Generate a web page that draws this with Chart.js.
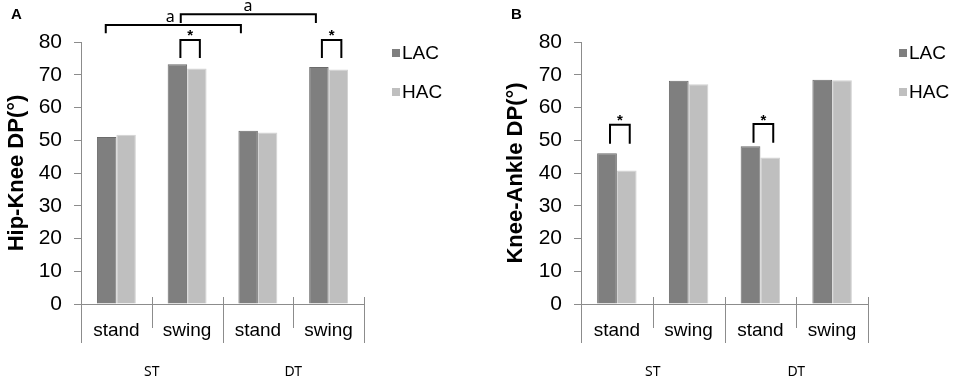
<!DOCTYPE html>
<html>
<head>
<meta charset="utf-8">
<script src="https://cdn.jsdelivr.net/npm/chart.js@4.4.1/dist/chart.umd.min.js"></script>
<style>
    body { margin: 0; background: #fff; }
    #wrap { position: relative; width: 957px; height: 384px; overflow: hidden; }
    .panel { position: absolute; top: 0; width: 478px; height: 384px; }
    .letter { position: absolute; font: bold 15px "Liberation Sans", Arial, sans-serif; color: #000; }
</style>
</head>
<body>
<div id="wrap">
    <div class="panel" style="left:0"><canvas id="chartA" width="478" height="384"></canvas></div>
    <div class="panel" style="left:479px"><canvas id="chartB" width="478" height="384"></canvas></div>
    <div class="letter" style="left:11px; top:5px">A</div>
    <div class="letter" style="left:511px; top:5px">B</div>
</div>
<script>
const categories = ['stand', 'swing', 'stand', 'swing'];
const groupLabels = ['ST', 'DT'];
const seriesNames = ['LAC', 'HAC'];
const yTicks = [0, 10, 20, 30, 40, 50, 60, 70, 80];

const hipKneeLAC = [51.0, 73.2, 52.9, 72.4];
const hipKneeHAC = [51.7, 71.9, 52.4, 71.6];
const kneeAnkleLAC = [46.0, 68.2, 48.2, 68.5];
const kneeAnkleHAC = [40.8, 67.1, 44.7, 68.3];

// * marks: category index, bracket top, leg bottom, star position (degrees)
const hipKneeStars = [[1, 80.6, 75.1, 82.7], [3, 80.6, 75.1, 82.7]];
const kneeAnkleStars = [[0, 54.7, 48.9, 56.8], [2, 55.0, 49.2, 56.8]];
// 'a' marks: from, to (category position), top, leg bottom, label x, label y
const hipKneeA = [[-0.15, 1.76, 85.2, 82.7, 0.76, 87.6], [0.91, 2.82, 88.5, 85.8, 1.86, 90.9]];
const kneeAnkleA = [];

const colors = { LAC: '#7f7f7f', HAC: '#bfbfbf' };
const borders = { LAC: '#6b6b6b', HAC: '#d2d2d2' };
const axisGray = '#8c8c8c';
const fontFamily = '"Liberation Sans", Arial, sans-serif';

Chart.defaults.font.family = fontFamily;
Chart.defaults.color = '#000';

const marks = {
    id: 'marks',
    afterDraw(chart, args, opts) {
        const ctx = chart.ctx;
        const x = chart.scales.x;
        const y = chart.scales.y;
        const area = chart.chartArea;
        ctx.save();

        // category separators below the axis
        ctx.strokeStyle = axisGray;
        ctx.lineWidth = 1;
        for (let i = 0; i <= categories.length; i++) {
            const px = Math.round(x.getPixelForValue(i - 0.5)) + 0.5;
            ctx.beginPath();
            if (i % 2 === 0) {
                ctx.moveTo(px, i === 0 ? area.bottom : area.bottom - 7);
                ctx.lineTo(px, area.bottom + 39);
            } else {
                ctx.moveTo(px, area.bottom - 7);
                ctx.lineTo(px, area.bottom + 24);
            }
            ctx.stroke();
        }

        // group labels
        ctx.fillStyle = '#000';
        ctx.font = '14px "Noto Sans", sans-serif';
        ctx.textAlign = 'center';
        ctx.textBaseline = 'middle';
        groupLabels.forEach((g, i) => {
            ctx.fillText(g, x.getPixelForValue(i * 2 + 0.5), area.bottom + 68);
        });

        // legend
        chart.data.datasets.forEach((ds, i) => {
            const lx = area.right + opts.legendGap;
            const ly = area.top + 11 + i * 39;
            ctx.fillStyle = ds.backgroundColor;
            ctx.fillRect(lx, ly - 4, 8, 8);
            ctx.fillStyle = '#000';
            ctx.font = '19px ' + fontFamily;
            ctx.textAlign = 'left';
            ctx.fillText(ds.label, lx + 10, ly + 1);
        });

        // significance brackets
        ctx.strokeStyle = '#000';
        ctx.lineWidth = 2;
        const m0 = chart.getDatasetMeta(0).data;
        const m1 = chart.getDatasetMeta(1).data;
        opts.stars.forEach(([c, top, leg, sy]) => {
            const x0 = m0[c].x + 3, x1 = m1[c].x + 3;
            ctx.beginPath();
            ctx.moveTo(x0, y.getPixelForValue(leg));
            ctx.lineTo(x0, y.getPixelForValue(top));
            ctx.lineTo(x1, y.getPixelForValue(top));
            ctx.lineTo(x1, y.getPixelForValue(leg));
            ctx.stroke();
            ctx.fillStyle = '#000';
            ctx.font = 'bold 15px ' + fontFamily;
            ctx.textAlign = 'center';
            ctx.fillText('*', (x0 + x1) / 2, y.getPixelForValue(sy) + 3);
        });
        opts.groups.forEach(([from, to, top, leg, lx, ly]) => {
            const x0 = x.getPixelForValue(from), x1 = x.getPixelForValue(to);
            ctx.beginPath();
            ctx.moveTo(x0, y.getPixelForValue(leg));
            ctx.lineTo(x0, y.getPixelForValue(top));
            ctx.lineTo(x1, y.getPixelForValue(top));
            ctx.lineTo(x1, y.getPixelForValue(leg));
            ctx.stroke();
            ctx.fillStyle = '#000';
            ctx.font = '16px "Noto Sans", sans-serif';
            ctx.textAlign = 'center';
            ctx.fillText('a', x.getPixelForValue(lx), y.getPixelForValue(ly));
        });
        ctx.restore();
    }
};

function makeChart(id, title, lac, hac, stars, groups, layout) {
    const ctx = document.getElementById(id).getContext('2d');
    return new Chart(ctx, {
        type: 'bar',
        data: {
            labels: categories,
            datasets: [
                { label: seriesNames[0], data: lac, backgroundColor: colors.LAC, borderColor: borders.LAC, borderWidth: 1 },
                { label: seriesNames[1], data: hac, backgroundColor: colors.HAC, borderColor: borders.HAC, borderWidth: 1 }
            ]
        },
        options: {
            responsive: false,
            animation: false,
            devicePixelRatio: 1,
            layout: { padding: { top: 42, bottom: 0, left: layout.left, right: layout.right } },
            datasets: { bar: { barPercentage: 1, categoryPercentage: 0.55 } },
            plugins: {
                legend: { display: false },
                tooltip: { enabled: false },
                marks: { stars: stars, groups: groups, legendGap: layout.legendGap }
            },
            scales: {
                x: {
                    grid: { display: false, drawTicks: false },
                    border: { color: axisGray, width: 1 },
                    ticks: { font: { size: 19 }, color: '#000', padding: 15, maxRotation: 0 },
                    afterFit: s => { s.height = 80; }
                },
                y: {
                    min: 0,
                    max: 80,
                    afterBuildTicks: s => { s.ticks = yTicks.map(v => ({ value: v })); },
                    grid: { drawOnChartArea: false, drawTicks: true, tickLength: 7, color: axisGray },
                    border: { color: axisGray, width: 1 },
                    ticks: { font: { size: 21 }, color: '#000', padding: 12 },
                    title: { display: true, text: title, font: { size: 22, weight: 'bold' }, color: '#000' },
                    afterFit: s => { s.width = layout.axisWidth; }
                }
            }
        },
        plugins: [marks]
    });
}

makeChart('chartA', 'Hip-Knee DP(°)', hipKneeLAC, hipKneeHAC, hipKneeStars, hipKneeA,
    { left: 0, right: 114, axisWidth: 81, legendGap: 28 });
makeChart('chartB', 'Knee-Ankle DP(°)', kneeAnkleLAC, kneeAnkleHAC, kneeAnkleStars, kneeAnkleA,
    { left: 20, right: 89, axisWidth: 82, legendGap: 31 });
</script>
</body>
</html>
